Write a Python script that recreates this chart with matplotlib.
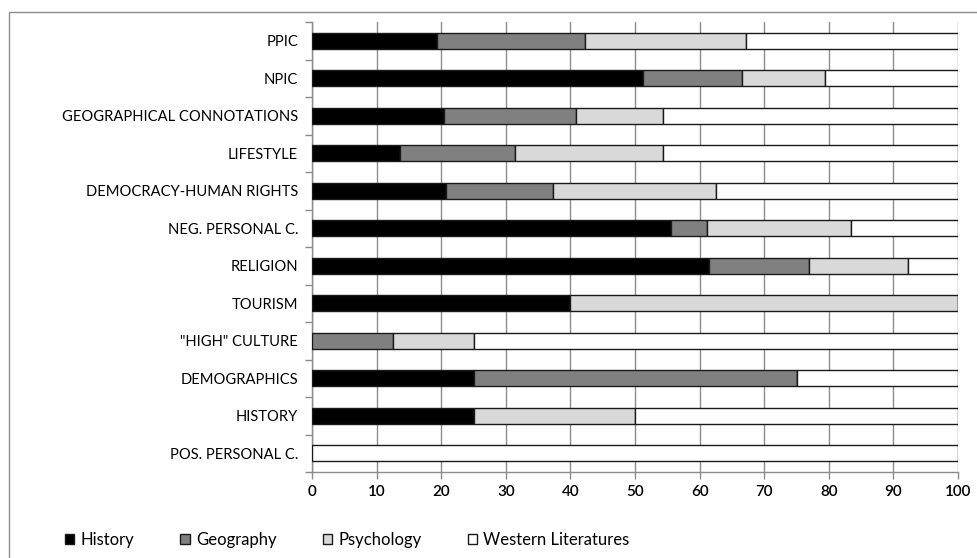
import matplotlib as mpl
import matplotlib.pyplot as plt
import numpy as np
from matplotlib.patches import Rectangle

mpl.rcParams.update(
    {
        "font.family": ["Lato", "DejaVu Sans"],
        "font.size": 10,
    }
)

categories = [
    "PPIC",
    "NPIC",
    "GEOGRAPHICAL CONNOTATIONS",
    "LIFESTYLE",
    "DEMOCRACY-HUMAN RIGHTS",
    "NEG. PERSONAL C.",
    "RELIGION",
    "TOURISM",
    '"HIGH" CULTURE',
    "DEMOGRAPHICS",
    "HISTORY",
    "POS. PERSONAL C.",
]
history = [19.4, 51.2, 20.5, 13.6, 20.7, 55.6, 61.5, 40.0, 0.0, 25.0, 25.0, 0.0]
geography = [22.9, 15.4, 20.4, 17.9, 16.6, 5.6, 15.4, 0.0, 12.5, 50.0, 0.0, 0.0]
psychology = [24.9, 12.8, 13.4, 22.8, 25.2, 22.2, 15.4, 60.0, 12.5, 0.0, 25.0, 0.0]
western = [32.8, 20.6, 45.7, 45.7, 37.5, 16.6, 7.7, 0.0, 75.0, 25.0, 50.0, 100.0]

series = [
    ("History", history, "#000000"),
    ("Geography", geography, "#808080"),
    ("Psychology", psychology, "#d9d9d9"),
    ("Western Literatures", western, "#ffffff"),
]

fig = plt.figure(figsize=(9.77, 5.58), dpi=100)
ax = fig.add_axes([312 / 977, 1 - 472 / 558, (958 - 312) / 977, (472 - 22) / 558])

# outer chart border
fig.patches.append(
    Rectangle((9 / 977, -0.05), 1.1, 1 - 12 / 558 + 0.05, transform=fig.transFigure,
              fill=False, edgecolor="#8c8c8c", linewidth=1.0)
)

y = np.arange(len(categories))
left = np.zeros(len(categories))
for name, vals, color in series:
    vals = np.array(vals)
    ax.barh(y, vals, left=left, height=0.42, color=color, edgecolor="#1a1a1a",
            linewidth=1.0, label=name, zorder=3)
    left += vals

ax.set_ylim(len(categories) - 0.5, -0.5)
ax.set_xlim(0, 100)
ax.set_xticks(np.arange(0, 101, 10))
ax.set_yticks(y, categories)
ax.set_yticks(np.arange(-0.5, len(categories)), minor=True)
ax.tick_params(axis="y", which="major", length=0, pad=10, labelsize=10.6)
ax.tick_params(axis="y", which="minor", length=5, color="#8c8c8c", width=1.0)
ax.tick_params(axis="x", length=5, color="#8c8c8c", width=1.0, labelsize=11, pad=4)
for lab in ax.get_xticklabels():
    lab.set_fontweight("semibold")
ax.grid(axis="x", color="#8c8c8c", linewidth=1.0, zorder=0)
ax.set_axisbelow(True)
for side in ["top", "right"]:
    ax.spines[side].set_visible(False)
for side in ["left", "bottom"]:
    ax.spines[side].set_color("#8c8c8c")
    ax.spines[side].set_linewidth(1.0)

handles, labels = ax.get_legend_handles_labels()
fig.legend(handles, labels, loc="center left", bbox_to_anchor=(50 / 977, 1 - 540 / 558),
           ncol=4, frameon=False, fontsize=12, handlelength=0.55, handleheight=0.55,
           handletextpad=0.4, columnspacing=2.75)

fig.savefig("out.png", dpi=100)
